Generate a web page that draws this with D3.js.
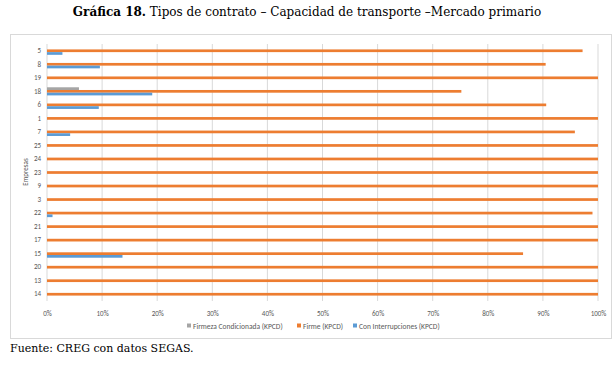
<!DOCTYPE html>
<html><head><meta charset="utf-8">
<script src="https://cdn.jsdelivr.net/npm/d3@7"></script>
<style>body{margin:0;background:#fff;}svg{display:block;}</style>
</head><body>
<svg id="c" width="616" height="366"></svg>
<script>
const empresas = ["5","8","19","18","6","1","7","25","24","23","9","3","22","21","17","15","20","13","14"];
const firmezaCondicionada = [0,0,0,0.058,0,0,0,0,0,0,0,0,0,0,0,0,0,0,0];
const firme = [0.972,0.905,1,0.752,0.906,1,0.958,1,1,1,1,1,0.990,1,1,0.864,1,1,1];
const conInterrupciones = [0.028,0.096,0,0.191,0.094,0,0.042,0,0,0,0,0,0.010,0,0,0.137,0,0,0];
const seriesNames = ["Firmeza Condicionada (KPCD)","Firme (KPCD)","Con Interrupciones (KPCD)"];
const seriesColors = ["#a5a5a5","#ed7d31","#5b9bd5"];
const xTicks = [0,0.1,0.2,0.3,0.4,0.5,0.6,0.7,0.8,0.9,1];

const svg = d3.select("#c");
const seriesData = [firmezaCondicionada, firme, conInterrupciones];

// title
const title = svg.append("text").attr("x",307).attr("y",16).attr("text-anchor","middle")
  .attr("font-family","'DejaVu Serif', serif").attr("font-size",12).attr("fill","#000");
title.append("tspan").attr("font-weight","bold").text("Gráfica 18.");
title.append("tspan").text(" Tipos de contrato – Capacidad de transporte –Mercado primario");

// outer box
svg.append("rect").attr("x",10.5).attr("y",34.5).attr("width",601).attr("height",304)
  .attr("fill","#fff").attr("stroke","#d9d9d9");

const x = d3.scaleLinear().domain([0,1]).range([47,598]);
const y = d3.scaleBand().domain(empresas).range([44,301]).paddingInner(0.4).paddingOuter(0.2);
const ys = d3.scaleBand().domain(seriesNames).range([0,y.bandwidth()]);

// grid
svg.append("g").selectAll("line").data(xTicks).join("line")
  .attr("x1",d=>x(d)).attr("x2",d=>x(d)).attr("y1",44).attr("y2",301)
  .attr("stroke","#d9d9d9").attr("stroke-width",1);

// x axis labels
const xa = svg.append("g").attr("transform","translate(0,308)")
  .call(d3.axisBottom(x).tickValues(xTicks).tickFormat(d3.format(".0%")).tickSize(0));
xa.select(".domain").remove();
xa.selectAll("text").attr("font-family","Carlito, 'Liberation Sans', sans-serif").attr("font-size",7).attr("fill","#595959");

// y axis labels
const ya = svg.append("g").attr("transform","translate(43,0)")
  .call(d3.axisLeft(y).tickSize(0).tickPadding(2));
ya.select(".domain").remove();
ya.selectAll("text").attr("font-family","Carlito, 'Liberation Sans', sans-serif").attr("font-size",7).attr("fill","#595959");

svg.append("text").attr("transform","translate(28,172) rotate(-90)").attr("text-anchor","middle")
  .attr("font-family","Carlito, 'Liberation Sans', sans-serif").attr("font-size",7).attr("fill","#595959").text("Empresas");

// bars
seriesData.forEach((vals,si)=>{
  svg.append("g").selectAll("rect").data(empresas.map((e,i)=>({e,v:vals[i]})).filter(d=>d.v>0)).join("rect")
    .attr("x",x(0)).attr("y",d=>y(d.e)+ys(seriesNames[si]))
    .attr("width",d=>x(d.v)-x(0)).attr("height",ys.bandwidth())
    .attr("fill",seriesColors[si]);
});

// legend
const legX = [187,297,353];
const lg = svg.append("g");
seriesNames.forEach((n,i)=>{
  lg.append("rect").attr("x",legX[i]).attr("y",323.5).attr("width",4).attr("height",4).attr("fill",seriesColors[i]);
  lg.append("text").attr("x",legX[i]+6).attr("y",328.5).attr("font-family","Carlito, 'Liberation Sans', sans-serif")
    .attr("font-size",7.5).attr("fill","#595959").text(n);
});

// footer
svg.append("text").attr("x",10).attr("y",352).attr("font-family","'DejaVu Serif', serif").attr("font-size",11)
  .attr("fill","#000").text("Fuente: CREG con datos SEGAS.");
</script>
</body></html>
